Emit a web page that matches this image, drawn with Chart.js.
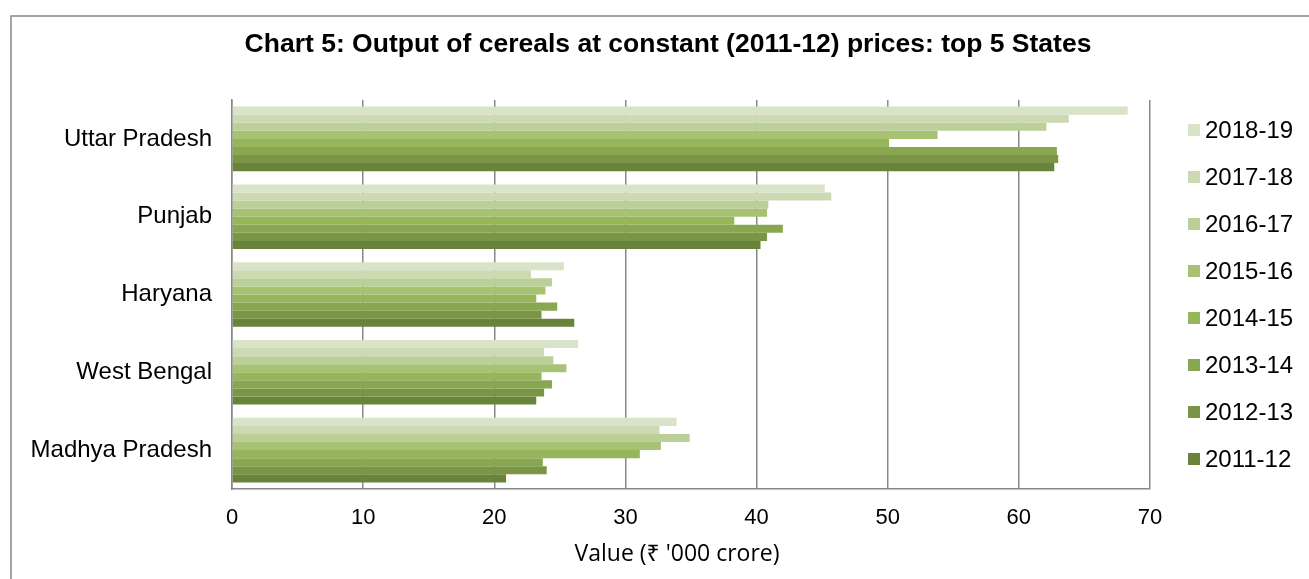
<!DOCTYPE html>
<html>
<head>
<meta charset="utf-8">
<script src="https://cdn.jsdelivr.net/npm/chart.js@4"></script>
<style>
  html, body { margin: 0; padding: 0; background: #fff; }
  #wrap { width: 1309px; height: 579px; position: relative; }
</style>
</head>
<body>
<div id="wrap"><canvas id="myChart" width="1309" height="579"></canvas></div>
<script>
// chart data
const states = ["Uttar Pradesh", "Punjab", "Haryana", "West Bengal", "Madhya Pradesh"];
const years = ["2018-19", "2017-18", "2016-17", "2015-16", "2014-15", "2013-14", "2012-13", "2011-12"];
const xTicks = [0, 10, 20, 30, 40, 50, 60, 70];

// values per year, in order of states
const v2018 = [68.3, 45.2, 25.3, 26.4, 33.9];
const v2017 = [63.8, 45.7, 22.8, 23.8, 32.6];
const v2016 = [62.1, 40.9, 24.4, 24.5, 34.9];
const v2015 = [53.8, 40.8, 23.9, 25.5, 32.7];
const v2014 = [50.1, 38.3, 23.2, 23.6, 31.1];
const v2013 = [62.9, 42.0, 24.8, 24.4, 23.7];
const v2012 = [63.0, 40.8, 23.6, 23.8, 24.0];
const v2011 = [62.7, 40.3, 26.1, 23.2, 20.9];

const colors = ["#D9E3C8", "#CCD9B2", "#BBCF98", "#A7C273", "#97B55B", "#89A650", "#7B9546", "#6A833C"];
const allValues = [v2018, v2017, v2016, v2015, v2014, v2013, v2012, v2011];

const chartTitle = "Chart 5: Output of cereals at constant (2011-12) prices: top 5 States";

// frame, title and legend drawn by hand
const decorations = {
  id: "decorations",
  beforeDraw(chart) {
    const ctx = chart.ctx;
    ctx.save();
    ctx.fillStyle = "#fff";
    ctx.fillRect(0, 0, chart.width, chart.height);
    ctx.strokeStyle = "#888";
    ctx.lineWidth = 1.5;
    ctx.beginPath();
    ctx.moveTo(11, chart.height + 5);
    ctx.lineTo(11, 16);
    ctx.lineTo(chart.width + 5, 16);
    ctx.stroke();
    ctx.restore();
  },
  afterDraw(chart) {
    const ctx = chart.ctx;
    ctx.save();
    ctx.fillStyle = "#000";
    ctx.font = "bold 26.5px 'Liberation Sans', Arial";
    ctx.textAlign = "center";
    ctx.textBaseline = "middle";
    ctx.fillText(chartTitle, 668, 45);

    ctx.font = "24px 'Liberation Sans', Arial";
    ctx.textAlign = "left";
    chart.data.datasets.forEach((ds, i) => {
      let y = 130 + i * 47;
      ctx.fillStyle = ds.backgroundColor;
      ctx.fillRect(1188, y - 6, 12, 12);
      ctx.fillStyle = "#000";
      ctx.fillText(ds.label, 1205, y + 1);
    });

    // x axis title
    ctx.font = "23px 'Open Sans', 'Noto Sans'";
    ctx.textAlign = "center";
    ctx.fillText("Value (₹ '000 crore)", 677, 554);
    ctx.restore();
  }
};

new Chart("myChart", {
  type: "bar",
  data: {
    labels: states,
    datasets: years.map((y, i) => ({
      label: y,
      data: allValues[i],
      backgroundColor: colors[i],
      borderWidth: 0,
      barPercentage: 1,
      categoryPercentage: 0.83,
    })),
  },
  options: {
    indexAxis: "y",
    responsive: false,
    animation: false,
    layout: { padding: { top: 100, right: 159, bottom: 0, left: 0 } },
    plugins: {
      legend: { display: false },
      title: { display: false },
      tooltip: { enabled: false },
    },
    scales: {
      x: {
        min: 0,
        max: 70,
        afterBuildTicks: (axis) => {
          axis.ticks = xTicks.map((v) => ({ value: v }));
        },
        afterFit: (axis) => {
          axis.height = 90;
        },
        grid: { color: "#888", lineWidth: 1.5, drawTicks: false },
        border: { color: "#888", width: 1.5 },
        ticks: {
          padding: 16,
          color: "#000",
          font: { family: "'Liberation Sans', Arial", size: 22 },
        },
      },
      y: {
        afterFit: (axis) => {
          axis.width = 232;
        },
        grid: { display: false, drawTicks: false },
        border: { color: "#888", width: 1.5 },
        ticks: {
          padding: 20,
          color: "#000",
          font: { family: "'Liberation Sans', Arial", size: 24 },
        },
      },
    },
  },
  plugins: [decorations],
});
</script>
</body>
</html>
